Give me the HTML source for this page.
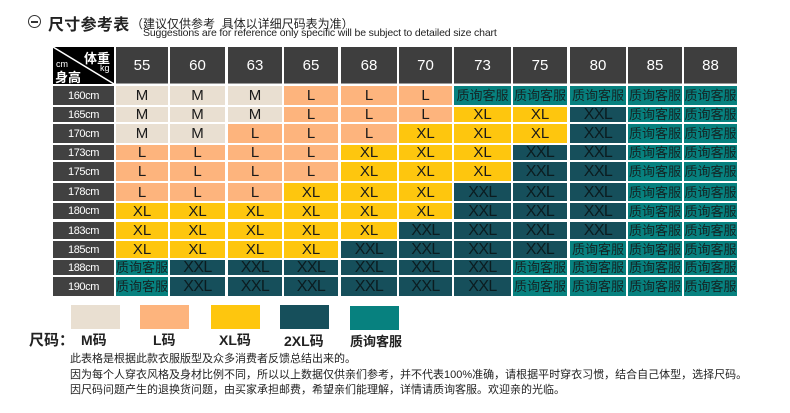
<!DOCTYPE html>
<html><head><meta charset="utf-8">
<style>
html,body{margin:0;padding:0;background:#fff;}
body{width:790px;height:413px;position:relative;overflow:hidden;font-family:"Liberation Sans","Noto Sans CJK SC",sans-serif;}
.a{position:absolute;}
.c{position:absolute;text-align:center;white-space:nowrap;overflow:hidden;}
/* columns */
.c0{left:53px;width:61px}.c1{left:116px;width:52px}.c2{left:170px;width:55px}.c3{left:228px;width:54px}
.c4{left:284px;width:54px}.c5{left:341px;width:56px}.c6{left:399px;width:53px}.c7{left:454px;width:57px}
.c8{left:513px;width:54px}.c9{left:570px;width:56px}.c10{left:628px;width:54px}.c11{left:684px;width:53px}
/* rows */
.h{top:47px;height:36px;line-height:37px;background:#3e3e3e;color:#fff;font-size:15px;border-bottom:1px solid #9a9a9a}
.r1{top:86px;height:19px;line-height:20px}.r2{top:107px;height:15px;line-height:16px}
.r3{top:124px;height:19px;line-height:20px}.r4{top:145px;height:15px;line-height:16px}
.r5{top:162px;height:19px;line-height:20px}.r6{top:183px;height:18px;line-height:19px}
.r7{top:203px;height:16px;line-height:17px}.r8{top:222px;height:17px;line-height:18px}
.r9{top:241px;height:17px;line-height:18px}.r10{top:260px;height:15px;line-height:16px}
.r11{top:277px;height:19px;line-height:20px}
.lb{background:#414141;color:#fff;font-size:11px;letter-spacing:-0.4px}
.m{background:#e9dfd1;color:#1a1a1a;font-size:15px}
.l{background:#fdb47d;color:#1a1a1a;font-size:15px}
.xl{background:#fec60e;color:#1a1a1a;font-size:15px}
.x2{background:#164f5b;color:#0b1c20;font-size:16px;letter-spacing:-0.6px}
.q{background:#07817f;color:#142424;font-size:13px}
.sw{position:absolute;top:305px;width:49px;height:24px}
.lg{position:absolute;top:330px;font-size:14px;font-weight:bold;color:#222;white-space:nowrap}
.tx{position:absolute;left:70px;font-size:11px;color:#222;white-space:nowrap}
</style></head><body>
<!-- title -->
<div class="a" style="left:28px;top:15px;width:11px;height:11px;border:1.5px solid #333;border-radius:50%;"></div>
<div class="a" style="left:31px;top:21px;width:7px;height:1.5px;background:#333;"></div>
<div class="a" style="left:48px;top:11px;font-size:16px;font-weight:bold;color:#222;letter-spacing:0.3px;white-space:nowrap;">尺寸参考表</div>
<div class="a" style="left:131px;top:15px;font-size:12px;color:#222;white-space:nowrap;">（建议仅供参考&nbsp;&nbsp;具体以详细尺码表为准）</div>
<div class="a" style="left:143px;top:27px;font-size:10.5px;color:#222;white-space:nowrap;letter-spacing:-0.15px;">Suggestions are for reference only specific will be subject to detailed size chart</div>

<!-- corner -->
<div class="a" style="left:53px;top:47px;width:61px;height:37px;background:#000;overflow:hidden;">
<svg width="61" height="37" style="position:absolute;left:0;top:0"><line x1="0" y1="0" x2="61" y2="37" stroke="#fff" stroke-width="1.5"/></svg>
<div class="a" style="left:31px;top:1px;font-size:13px;font-weight:bold;color:#fff;white-space:nowrap;">体重</div>
<div class="a" style="left:47px;top:16px;font-size:9px;color:#fff;">kg</div>
<div class="a" style="left:3px;top:12px;font-size:9px;color:#fff;">cm</div>
<div class="a" style="left:2px;top:20px;font-size:13px;font-weight:bold;color:#fff;white-space:nowrap;">身高</div>
</div>

<!-- header -->
<div class="c h c1">55</div><div class="c h c2">60</div><div class="c h c3">63</div><div class="c h c4">65</div>
<div class="c h c5">68</div><div class="c h c6">70</div><div class="c h c7">73</div><div class="c h c8">75</div>
<div class="c h c9">80</div><div class="c h c10">85</div><div class="c h c11">88</div>

<!-- row 160 -->
<div class="c lb c0 r1">160cm</div>
<div class="c m c1 r1">M</div><div class="c m c2 r1">M</div><div class="c m c3 r1">M</div><div class="c l c4 r1">L</div><div class="c l c5 r1">L</div><div class="c l c6 r1">L</div><div class="c q c7 r1">质询客服</div><div class="c q c8 r1">质询客服</div><div class="c q c9 r1">质询客服</div><div class="c q c10 r1">质询客服</div><div class="c q c11 r1">质询客服</div>
<!-- row 165 -->
<div class="c lb c0 r2">165cm</div>
<div class="c m c1 r2">M</div><div class="c m c2 r2">M</div><div class="c m c3 r2">M</div><div class="c l c4 r2">L</div><div class="c l c5 r2">L</div><div class="c l c6 r2">L</div><div class="c xl c7 r2">XL</div><div class="c xl c8 r2">XL</div><div class="c x2 c9 r2">XXL</div><div class="c q c10 r2">质询客服</div><div class="c q c11 r2">质询客服</div>
<!-- row 170 -->
<div class="c lb c0 r3">170cm</div>
<div class="c m c1 r3">M</div><div class="c m c2 r3">M</div><div class="c l c3 r3">L</div><div class="c l c4 r3">L</div><div class="c l c5 r3">L</div><div class="c xl c6 r3">XL</div><div class="c xl c7 r3">XL</div><div class="c xl c8 r3">XL</div><div class="c x2 c9 r3">XXL</div><div class="c q c10 r3">质询客服</div><div class="c q c11 r3">质询客服</div>
<!-- row 173 -->
<div class="c lb c0 r4">173cm</div>
<div class="c l c1 r4">L</div><div class="c l c2 r4">L</div><div class="c l c3 r4">L</div><div class="c l c4 r4">L</div><div class="c xl c5 r4">XL</div><div class="c xl c6 r4">XL</div><div class="c xl c7 r4">XL</div><div class="c x2 c8 r4">XXL</div><div class="c x2 c9 r4">XXL</div><div class="c q c10 r4">质询客服</div><div class="c q c11 r4">质询客服</div>
<!-- row 175 -->
<div class="c lb c0 r5">175cm</div>
<div class="c l c1 r5">L</div><div class="c l c2 r5">L</div><div class="c l c3 r5">L</div><div class="c l c4 r5">L</div><div class="c xl c5 r5">XL</div><div class="c xl c6 r5">XL</div><div class="c xl c7 r5">XL</div><div class="c x2 c8 r5">XXL</div><div class="c x2 c9 r5">XXL</div><div class="c q c10 r5">质询客服</div><div class="c q c11 r5">质询客服</div>
<!-- row 178 -->
<div class="c lb c0 r6">178cm</div>
<div class="c l c1 r6">L</div><div class="c l c2 r6">L</div><div class="c l c3 r6">L</div><div class="c xl c4 r6">XL</div><div class="c xl c5 r6">XL</div><div class="c xl c6 r6">XL</div><div class="c x2 c7 r6">XXL</div><div class="c x2 c8 r6">XXL</div><div class="c x2 c9 r6">XXL</div><div class="c q c10 r6">质询客服</div><div class="c q c11 r6">质询客服</div>
<!-- row 180 -->
<div class="c lb c0 r7">180cm</div>
<div class="c xl c1 r7">XL</div><div class="c xl c2 r7">XL</div><div class="c xl c3 r7">XL</div><div class="c xl c4 r7">XL</div><div class="c xl c5 r7">XL</div><div class="c xl c6 r7">XL</div><div class="c x2 c7 r7">XXL</div><div class="c x2 c8 r7">XXL</div><div class="c x2 c9 r7">XXL</div><div class="c q c10 r7">质询客服</div><div class="c q c11 r7">质询客服</div>
<!-- row 183 -->
<div class="c lb c0 r8">183cm</div>
<div class="c xl c1 r8">XL</div><div class="c xl c2 r8">XL</div><div class="c xl c3 r8">XL</div><div class="c xl c4 r8">XL</div><div class="c xl c5 r8">XL</div><div class="c x2 c6 r8">XXL</div><div class="c x2 c7 r8">XXL</div><div class="c x2 c8 r8">XXL</div><div class="c x2 c9 r8">XXL</div><div class="c q c10 r8">质询客服</div><div class="c q c11 r8">质询客服</div>
<!-- row 185 -->
<div class="c lb c0 r9">185cm</div>
<div class="c xl c1 r9">XL</div><div class="c xl c2 r9">XL</div><div class="c xl c3 r9">XL</div><div class="c xl c4 r9">XL</div><div class="c x2 c5 r9">XXL</div><div class="c x2 c6 r9">XXL</div><div class="c x2 c7 r9">XXL</div><div class="c x2 c8 r9">XXL</div><div class="c q c9 r9">质询客服</div><div class="c q c10 r9">质询客服</div><div class="c q c11 r9">质询客服</div>
<!-- row 188 -->
<div class="c lb c0 r10">188cm</div>
<div class="c q c1 r10">质询客服</div><div class="c x2 c2 r10">XXL</div><div class="c x2 c3 r10">XXL</div><div class="c x2 c4 r10">XXL</div><div class="c x2 c5 r10">XXL</div><div class="c x2 c6 r10">XXL</div><div class="c x2 c7 r10">XXL</div><div class="c q c8 r10">质询客服</div><div class="c q c9 r10">质询客服</div><div class="c q c10 r10">质询客服</div><div class="c q c11 r10">质询客服</div>
<!-- row 190 -->
<div class="c lb c0 r11">190cm</div>
<div class="c q c1 r11">质询客服</div><div class="c x2 c2 r11">XXL</div><div class="c x2 c3 r11">XXL</div><div class="c x2 c4 r11">XXL</div><div class="c x2 c5 r11">XXL</div><div class="c x2 c6 r11">XXL</div><div class="c x2 c7 r11">XXL</div><div class="c q c8 r11">质询客服</div><div class="c q c9 r11">质询客服</div><div class="c q c10 r11">质询客服</div><div class="c q c11 r11">质询客服</div>

<!-- legend -->
<div class="sw" style="left:71px;background:#e9dfd1;"></div>
<div class="sw" style="left:140px;background:#fdb47d;"></div>
<div class="sw" style="left:211px;background:#fec60e;"></div>
<div class="sw" style="left:280px;background:#164f5b;"></div>
<div class="sw" style="left:350px;top:306px;background:#07817f;"></div>
<div class="lg" style="left:29px;top:329px;font-size:15px;">尺码：</div>
<div class="lg" style="left:81px;">M码</div>
<div class="lg" style="left:153px;">L码</div>
<div class="lg" style="left:219px;">XL码</div>
<div class="lg" style="left:284px;top:331px;">2XL码</div>
<div class="lg" style="left:350px;font-size:13px;top:331px;">质询客服</div>

<!-- notes -->
<div class="tx" style="top:350px;">此表格是根据此款衣服版型及众多消费者反馈总结出来的。</div>
<div class="tx" style="top:366px;">因为每个人穿衣风格及身材比例不同，所以以上数据仅供亲们参考，并不代表100%准确，请根据平时穿衣习惯，结合自己体型，选择尺码。</div>
<div class="tx" style="top:381px;">因尺码问题产生的退换货问题，由买家承担邮费，希望亲们能理解，详情请质询客服。欢迎亲的光临。</div>
</body></html>
